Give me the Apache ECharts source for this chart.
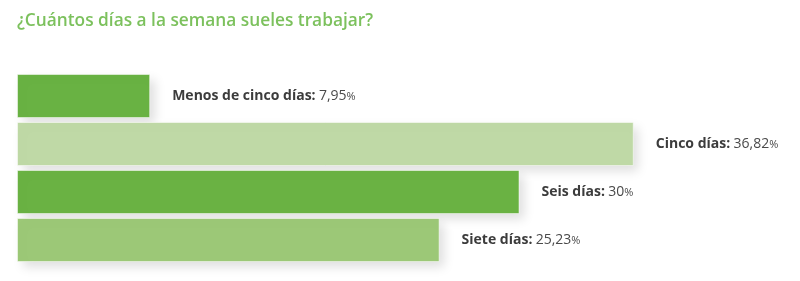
<!DOCTYPE html>
<html><head><meta charset="utf-8">
<script src="https://cdn.jsdelivr.net/npm/echarts@6/dist/echarts.min.js"></script>
<style>html,body{margin:0;padding:0;background:#fff}#c{width:800px;height:281px}</style>
</head><body><div id="c"></div>
<script>
const categories = ["Menos de cinco días", "Cinco días", "Seis días", "Siete días"];
const values = [7.95, 36.82, 30, 25.23];
const valueLabels = ["7,95", "36,82", "30", "25,23"];
const barColors = ["#69b243", "#bfd9a6", "#6ab243", "#9cc877"];
const title = "¿Cuántos días a la semana sueles trabajar?";

const chart = echarts.init(document.getElementById('c'));
chart.setOption({
  animation: false,
  title: {
    text: title, left: 12, top: 8,
    textStyle: {color: '#7cc15d', fontSize: 17.3, fontWeight: 600, fontFamily: 'Open Sans'}
  },
  grid: {left: 17, top: 72, width: 670, height: 192},
  xAxis: {type: 'value', min: 0, max: 40, show: false},
  yAxis: {type: 'category', inverse: true, data: categories, show: false},
  series: [{
    type: 'bar',
    barWidth: 44,
    data: values.map((v, i) => ({
      value: v,
      itemStyle: {color: barColors[i]},
      label: {
        formatter: '{b|' + categories[i] + ':} {v|' + valueLabels[i] + '}{p|%}'
      }
    })),
    itemStyle: {
      borderColor: 'rgba(255,255,255,0.5)', borderWidth: 1,
      shadowBlur: 10, shadowOffsetX: 5, shadowOffsetY: 5, shadowColor: 'rgba(0,0,0,0.13)'
    },
    label: {
      show: true, position: 'right', distance: 22,
      rich: {
        b: {fontFamily: 'Open Sans', fontWeight: 'bold', fontSize: 14, color: '#3c3c3c'},
        v: {fontFamily: 'Open Sans', fontSize: 14, color: '#4a4a4a'},
        p: {fontFamily: 'Open Sans', fontSize: 11, color: '#4a4a4a', padding: [2, 0, 0, 0]}
      }
    }
  }]
});
</script></body></html>
